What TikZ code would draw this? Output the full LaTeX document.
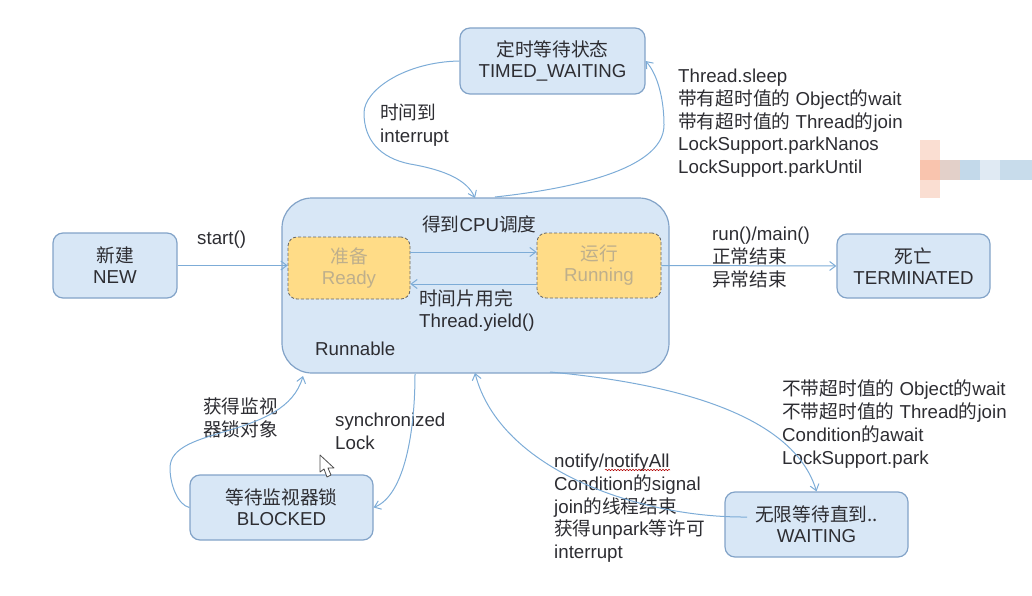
\documentclass[tikz,border=0pt]{standalone}
\usepackage{fontspec}
\setmainfont{Liberation Sans}
\newfontfamily\cjk{Noto Sans CJK SC}
\newcommand{\cn}[1]{{\cjk #1}}
\usetikzlibrary{arrows.meta,positioning,decorations.pathmorphing}
\definecolor{stateColor}{RGB}{216,231,246}
\definecolor{stateLine}{RGB}{130,163,200}
\definecolor{arrowColor}{RGB}{125,172,215}
\definecolor{activeColor}{RGB}{255,220,135}
\definecolor{activeText}{RGB}{190,175,140}
\definecolor{labelColor}{RGB}{45,45,50}
\definecolor{smudgeA}{RGB}{250,222,210}
\definecolor{smudgeB}{RGB}{249,196,174}
\definecolor{smudgeC}{RGB}{227,208,201}
\definecolor{smudgeD}{RGB}{195,217,234}
\definecolor{smudgeE}{RGB}{224,234,243}
\definecolor{smudgeF}{RGB}{200,220,235}
\tikzset{state/.style={fill=stateColor, draw=stateLine, line width=1.2pt, align=center, rounded corners=10pt, text=labelColor, font=\fontsize{18.7}{21}\selectfont, inner sep=0pt}}
\tikzset{active/.style={fill=activeColor, draw=black!60, densely dashed, line width=.8pt, align=center, rounded corners=9pt, text=activeText, font=\fontsize{18.7}{21}\selectfont, inner sep=0pt}}
\tikzset{label/.style={align=left, anchor=north west, text=labelColor, inner sep=0pt, font=\fontsize{18.7}{22.7}\selectfont}}
\tikzstyle{arrow} = [draw=arrowColor, line width=1pt, -{Straight Barb[length=6pt,width=9pt]}]

\begin{document}
\begin{tikzpicture}[x=1pt, y=-1pt]
	\useasboundingbox (0,0) rectangle (1032,596);
	% Nodes
	\node (runnable) [state, minimum width=387pt, minimum height=175pt, rounded corners=30pt] at (475.5,285.5) {};
	\node (new) [state, minimum width=124pt, minimum height=65pt] at (115,265.5) {\cn{新建}\\NEW};
	\node (timed) [state, minimum width=185pt, minimum height=66pt] at (552.5,61) {\cn{定时等待状态}\\TIMED\_WAITING};
	\node (ready) [active, minimum width=122pt, minimum height=62pt] at (349,268) {\cn{准备}\\Ready};
	\node (running) [active, minimum width=124pt, minimum height=65pt] at (599,265.5) {\cn{运行}\\Running};
	\node (terminated) [state, minimum width=153pt, minimum height=64pt] at (913.5,266) {\cn{死亡}\\TERMINATED};
	\node (blocked) [state, minimum width=183pt, minimum height=65pt] at (281.5,507.5) {\cn{等待监视器锁}\\BLOCKED};
	\node (waiting) [state, minimum width=183pt, minimum height=65pt] at (816.5,524.5) {\cn{无限等待直到..}\\WAITING};

	\coordinate (runnabletopa) at (475,198);
	\coordinate (runnabletopb) at (495,197);
	\coordinate (runnableleft) at (303,376);
	\coordinate (runnablesync) at (415,374);
	\coordinate (runnablenotify) at (475,373);
	\coordinate (runnablewait) at (550,372);
	\coordinate (waitingin) at (747,517);

	% Labels
	\node (startlabel) [label] at (197,231) {start()};
	\node (timeuplabel) [label] at (380,104) {\cn{时间到}\\interrupt};
	\node (sleeplabel) [label] at (678,69) {Thread.sleep\\\cn{带有超时值的} Object\cn{的}wait\\\cn{带有超时值的} Thread\cn{的}join\\LockSupport.parkNanos\\LockSupport.parkUntil};
	\node (cpulabel) [label] at (422,215) {\cn{得到}CPU\cn{调度}};
	\node (yieldlabel) [label] at (419,289) {\cn{时间片用完}\\Thread.yield()};
	\node (runnablelabel) [label] at (315,342) {Runnable};
	\node (endlabel) [label] at (712,227) {run()/main()\\\cn{正常结束}\\\cn{异常结束}};
	\node (monitorlabel) [label] at (203,398) {\cn{获得监视}\\\cn{器锁对象}};
	\node (synclabel) [label] at (335,413) {synchronized\\Lock};
	\node (waitlabel) [label] at (782,380) {\cn{不带超时值的} Object\cn{的}wait\\\cn{不带超时值的} Thread\cn{的}join\\Condition\cn{的}await\\LockSupport.park};
	\node (notifylabel) [label] at (554,454) {notify/notifyAll\\Condition\cn{的}signal\\join\cn{的线程结束}\\\cn{获得}unpark\cn{等许可}\\interrupt};

	% Connectors
	\draw [arrow] (new.east) -- (new.east -| ready.west);
	\draw [arrow] (ready.east |- 0,252) -- (running.west |- 0,252);
	\draw [arrow] (running.west |- 0,284) -- (ready.east |- 0,284);
	\draw [arrow] (running.east) -- (terminated.west);
	\draw [arrow] (timed.west) .. controls (405,62) and (364,90) .. (364,113) .. controls (364,140) and (380,158) .. (410,164) .. controls (445,170) and (467,180) .. (runnabletopa);
	\draw [arrow] (runnabletopb) .. controls (560,190) and (664,172) .. (664,125) .. controls (664,100) and (658,75) .. (timed.east);
	\draw [arrow] (runnablesync) .. controls (415,430) and (405,495) .. (blocked.east);
	\draw [arrow] (blocked.west) .. controls (178,505) and (170,485) .. (170,468) .. controls (170,425) and (285,440) .. (runnableleft);
	\draw [arrow] (runnablewait) .. controls (690,385) and (795,420) .. (waiting.north);
	\draw [arrow] (waitingin) .. controls (640,518) and (500,470) .. (runnablenotify);
	\draw [red!70!black, line width=.5pt, decorate, decoration={snake, amplitude=.7pt, segment length=3pt}] (605,470) -- (670,470);

	% Cursor and smudge
	\draw [fill=white, draw=black!70, line width=.8pt, line join=round] (320,455) -- (320,472) -- (324,469) -- (327,477) -- (331,475) -- (328,468) -- (334,468) -- cycle;
	\fill [smudgeA] (920,140) rectangle (940,198);
	\fill [smudgeB] (920,160) rectangle (940,180);
	\fill [smudgeC] (940,160) rectangle (960,180);
	\fill [smudgeD] (960,160) rectangle (980,180);
	\fill [smudgeE] (980,160) rectangle (1000,180);
	\fill [smudgeF] (1000,160) rectangle (1032,180);
\end{tikzpicture}
\end{document}
